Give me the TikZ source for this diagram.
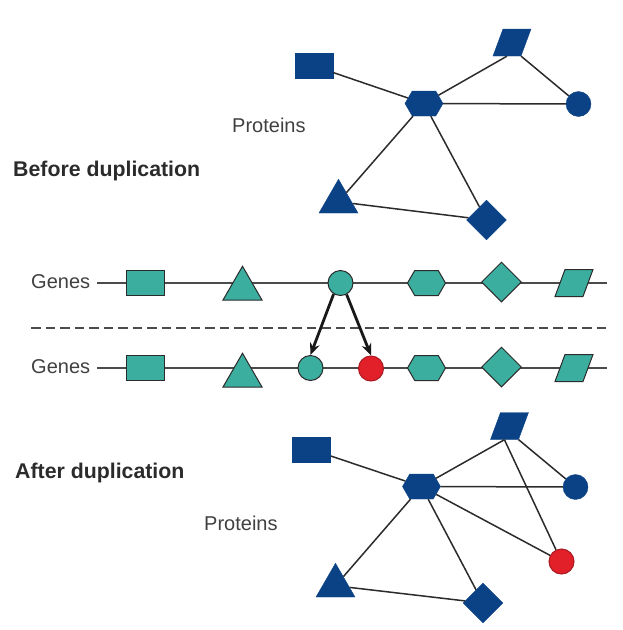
\documentclass[tikz,border=0pt]{standalone}
\usepackage{fontspec}
\setmainfont{Liberation Sans}
\usetikzlibrary{shapes.geometric,shapes.symbols,arrows.meta}

\definecolor{protblue}{HTML}{0B4285}
\definecolor{geneteal}{HTML}{3BAE9F}
\definecolor{dupred}{HTML}{E2202A}
\definecolor{inkgray}{HTML}{2B2B2B}

\begin{document}
\begin{tikzpicture}[x=1pt,y=-1pt,
    lbl/.style={inner sep=0pt, text=inkgray!90, font=\fontsize{20}{20}\selectfont},
    heading/.style={inner sep=0pt, text=inkgray, font=\fontsize{21.3}{21.3}\selectfont\bfseries},
    rect/.style={rectangle, minimum width=38pt, minimum height=25pt, inner sep=0pt},
    hexa/.style={signal, signal to=east and west, signal pointer angle=120, minimum width=38pt, minimum height=25pt, inner sep=0pt},
    tri/.style={regular polygon, regular polygon sides=3, minimum size=45pt, inner sep=0pt},
    dmnd/.style={diamond, minimum width=40pt, minimum height=40pt, inner sep=0pt},
    para/.style={rectangle, xslant=0.37, minimum width=28pt, minimum height=27pt, inner sep=0pt},
    circ/.style={circle, minimum size=25pt, inner sep=0pt},
    prot/.style={fill=protblue, draw=protblue},
    gene/.style={fill=geneteal, draw=inkgray, line width=1pt},
    dup/.style={fill=dupred, draw=dupred!75!black, line width=1pt},
    link/.style={draw=inkgray, line width=1.5pt},
    chrom/.style={draw=inkgray!85, line width=1.8pt},
    dupe/.style={-{Stealth[length=12pt,width=10pt]}, line width=2.8pt, black!90}
  ]
  \useasboundingbox (0,0) rectangle (622,630);

  % before duplication
  \node[lbl, anchor=base west] (protA) at (232,132.6) {Proteins};
  \node[heading, anchor=base west] (before) at (13,176.5) {Before duplication};
  \node[rect,prot] (pr1) at (314,66) {};
  \node[hexa,prot] (ph1) at (424,103.5) {};
  \node[para,prot] (pp1) at (512,42.5) {};
  \node[circ,prot] (pc1) at (578.5,104) {};
  \node[tri,prot] (pt1) at (338.5,201.75) {};
  \node[dmnd,prot] (pd1) at (486.5,220) {};
  \foreach \a/\b in {pr1/ph1, ph1/pp1.south, pp1.south east/pc1, ph1/pc1, ph1/pt1, ph1/pd1, pt1/pd1}
    \draw[link] (\a) -- (\b);

  % genes
  \node[lbl, anchor=base west] (genesA) at (31,288.3) {Genes};
  \node[lbl, anchor=base west] (genesB) at (31,373.3) {Genes};
  \coordinate (startA) at (97,283);
  \coordinate (endA) at (607,283);
  \coordinate (startB) at (97,368);
  \coordinate (endB) at (607,368);
  \draw[chrom] (startA) -- (endA);
  \draw[chrom] (startB) -- (endB);
  \coordinate (cutL) at (31,328.3);
  \coordinate (cutR) at (607,328.3);
  \draw[chrom, dash pattern=on 9.5pt off 5pt] (cutL) -- (cutR);

  \node[rect,gene] (ga1) at (145,282.5) {};
  \node[tri,gene] (ga2) at (242.5,288.75) {};
  \node[circ,gene] (ga3) at (340.5,283) {};
  \node[hexa,gene] (ga4) at (426.5,283) {};
  \node[dmnd,gene] (ga5) at (501.5,282) {};
  \node[para,gene] (ga6) at (574,283) {};

  \node[rect,gene] (gb1) at (145,368) {};
  \node[tri,gene] (gb2) at (242.5,375.75) {};
  \node[circ,gene] (gb3) at (310.5,368) {};
  \node[circ,dup] (gbn) at (371,368.5) {};
  \node[hexa,gene] (gb4) at (426.5,368) {};
  \node[dmnd,gene] (gb5) at (501.5,367) {};
  \node[para,gene] (gb6) at (574,368) {};

  \draw[dupe] (ga3.-122) -- (gb3.north);
  \draw[dupe] (ga3.-62) -- (gbn.north);

  % after duplication
  \node[heading, anchor=base west] (after) at (15,478) {After duplication};
  \node[lbl, anchor=base west] (protB) at (204,530) {Proteins};
  \node[rect,prot] (pr2) at (311.5,449.5) {};
  \node[hexa,prot] (ph2) at (421.5,486.5) {};
  \node[para,prot] (pp2) at (509.5,426) {};
  \node[circ,prot] (pc2) at (575.5,487) {};
  \node[circ,dup] (pn2) at (561.5,561.5) {};
  \node[tri,prot] (pt2) at (335.5,585.75) {};
  \node[dmnd,prot] (pd2) at (483,603) {};
  \foreach \a/\b in {pr2/ph2, ph2/pp2.south, pp2.south east/pc2, ph2/pc2, pp2.south/pn2, ph2/pn2, ph2/pt2, ph2/pd2, pt2/pd2}
    \draw[link] (\a) -- (\b);
\end{tikzpicture}
\end{document}
